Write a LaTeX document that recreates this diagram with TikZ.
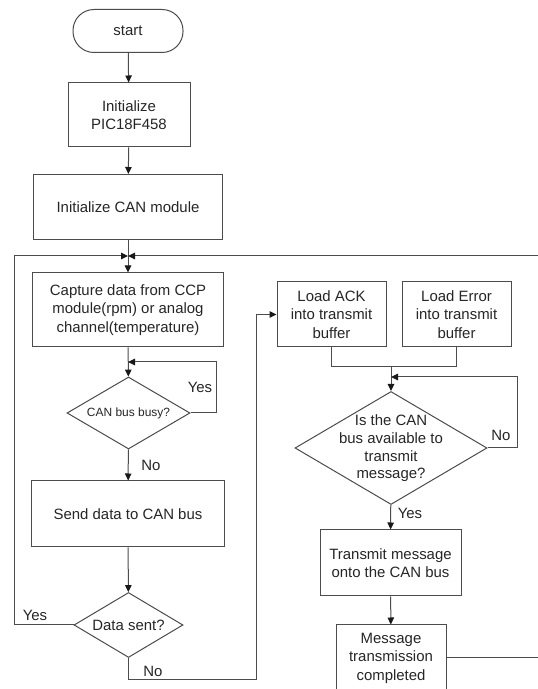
\documentclass[tikz,border=0pt]{standalone}
\usepackage{fontspec}
\setmainfont{Liberation Sans}
\usetikzlibrary{shapes.geometric,arrows.meta}

\begin{document}
\begin{tikzpicture}[x=1bp,y=1bp,
    line/.style={draw=black!70,line width=1bp},
    arr/.style={line,-{Triangle[length=7bp,width=6.5bp,color=black!90]}},
    txt/.style={font=\fontsize{15}{18.5}\selectfont,text=black!85,align=center},
    proc/.style={txt,draw=black!70,line width=1bp,rectangle,inner sep=0pt},
    term/.style={proc,rounded corners=21bp},
    decide/.style={txt,draw=black!70,line width=1bp,diamond,inner sep=0pt}]
  \path[use as bounding box] (0,0) rectangle (538,689);
  \fill[white] (0,0) rectangle (538,689);
  \clip (0,0) rectangle (538,689);

  % left column
  \node[term,minimum width=110bp,minimum height=43bp] (start) at (128,658) {start};
  \node[proc,minimum width=122bp,minimum height=64bp] (initpic) at (129,574) {Initialize\\PIC18F458};
  \node[proc,minimum width=189bp,minimum height=65bp] (initcan) at (128,482) {Initialize CAN module};
  \coordinate (merge) at (128,433);
  \node[proc,minimum width=190bp,minimum height=74bp] (capture) at (128,379)
    {Capture data from CCP\\module(rpm) or analog\\channel(temperature)};
  \node[decide,aspect=1.7,minimum width=123bp,minimum height=72bp,
    font=\fontsize{12}{14}\selectfont] (busy) at (128.5,276) {CAN bus busy?};
  \coordinate (busyin) at (128,327);
  \node[proc,minimum width=192bp,minimum height=66bp] (send) at (128,175) {Send data to CAN bus};
  \node[decide,aspect=1.68,minimum width=109bp,minimum height=65bp] (sent) at (128.5,64) {Data sent?};
  \coordinate (leftrail) at (14,433);
  \coordinate (norail) at (256,9);

  % right column
  \node[proc,minimum width=109bp,minimum height=65bp] (ack) at (331.5,374.5) {Load ACK\\into transmit\\buffer};
  \node[proc,minimum width=109bp,minimum height=65bp] (err) at (456.5,374.5) {Load Error\\into transmit\\buffer};
  \coordinate (join) at (391,322);
  \coordinate (availin) at (391,312);
  \node[decide,minimum width=192bp,minimum height=113bp] (avail) at (391,241) {};
  \node[txt,font=\fontsize{15}{17.7}\selectfont] (availtxt) at (391,240.5)
    {Is the CAN\\bus available to\\transmit\\message?};
  \node[proc,minimum width=141bp,minimum height=66bp] (transmit) at (390.5,126) {Transmit message\\onto the CAN bus};
  \node[proc,minimum width=110bp,minimum height=66bp] (msg) at (391,31) {Message\\transmission\\completed};
  \coordinate (rightrail) at (570,433);

  % connectors
  \draw[arr] (start) -- (initpic);
  \draw[arr] (initpic) -- (initcan);
  \draw[line] (initcan) -- (merge);
  \draw[arr] (merge) -- (capture);
  \draw[arr] (capture) -- (busy);
  \draw[arr] (busy.east) -- ++(26,0) |- (busyin);
  \draw[arr] (busy) -- (send);
  \draw[arr] (send) -- (sent);
  \draw[arr] (sent.west) -| (leftrail) -- (merge);
  \draw[arr] (sent.south) |- (norail) |- (ack.west);
  \draw[line] (ack.south) |- (join);
  \draw[line] (err.south) |- (join);
  \draw[arr] (join) -- (avail.north);
  \draw[arr] (avail.east) -- ++(30,0) |- (availin);
  \draw[arr] (avail) -- (transmit);
  \draw[arr] (transmit) -- (msg);
  \draw[arr] (msg.east) -| (rightrail) -- (merge);

  % labels
  \node[txt] (busyyes) at (200,302) {Yes};
  \node[txt] (busyno) at (151,224) {No};
  \node[txt] (sentyes) at (35,74) {Yes};
  \node[txt] (sentno) at (153,18) {No};
  \node[txt] (availno) at (501,254) {No};
  \node[txt] (availyes) at (410,176) {Yes};
\end{tikzpicture}
\end{document}
